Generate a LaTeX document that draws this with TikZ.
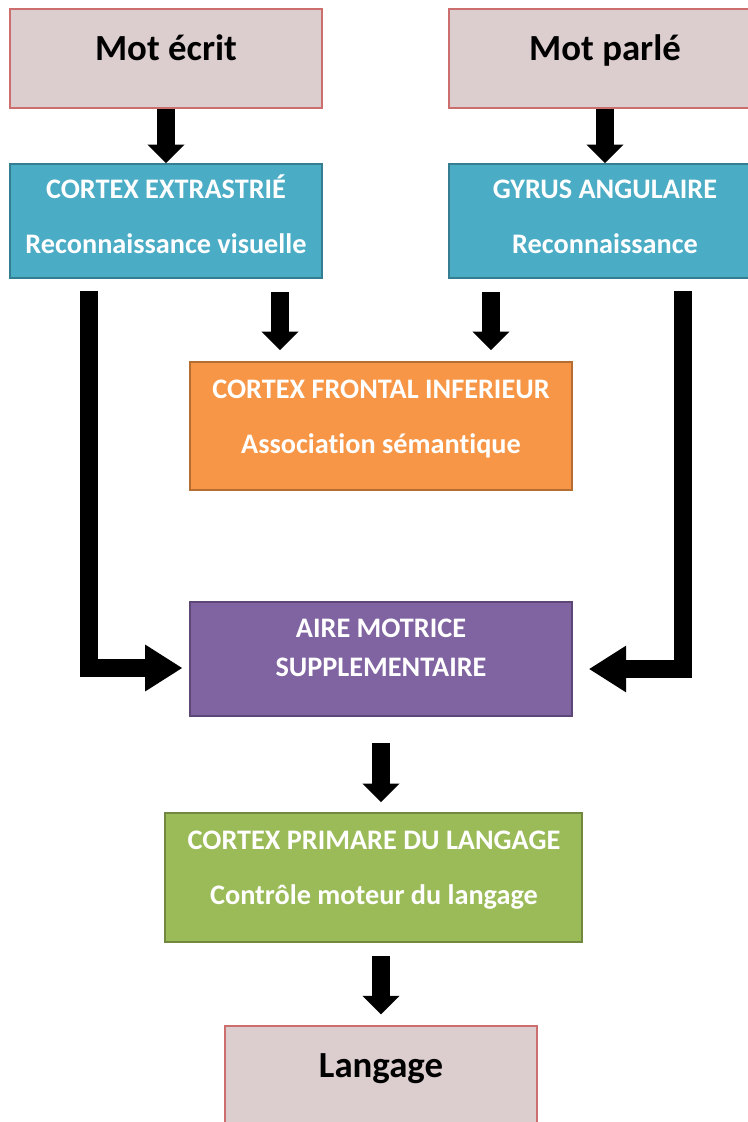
\documentclass[tikz,border=0pt]{standalone}
\usepackage{fontspec}
\setmainfont[Ligatures=NoCommon]{Carlito}
\usetikzlibrary{arrows.meta}
\definecolor{rosefond}{RGB}{220,205,206}
\definecolor{rosetrait}{RGB}{205,110,110}
\definecolor{bleufond}{RGB}{75,172,198}
\definecolor{bleutrait}{RGB}{53,125,145}
\definecolor{orangefond}{RGB}{247,150,70}
\definecolor{orangetrait}{RGB}{182,109,49}
\definecolor{violetfond}{RGB}{128,100,162}
\definecolor{violettrait}{RGB}{92,71,118}
\definecolor{vertfond}{RGB}{155,187,89}
\definecolor{verttrait}{RGB}{113,137,63}
\tikzset{
    boite/.style 2 args={rectangle, fill=#1, draw=#2, line width=1.2pt}
}
\tikzset{
    mot/.style={boite={rosefond}{rosetrait}, line width=0.8pt,
    	minimum width=234pt, minimum height=74.25pt},
    titre/.style={font=\fontsize{27.6}{33}\selectfont\bfseries, anchor=base, inner sep=0pt},
    blanc/.style={text=white, font=\fontsize{21.2}{41.25}\selectfont\bfseries,
    	align=center, anchor=base, inner sep=0pt}
}
\tikzset{
    fleche/.style={line width=13.5pt, -{Triangle[width=27pt,length=14pt]}},
    cote/.style={line width=13.5pt, line join=miter, -{Triangle[width=33pt,length=28pt]}}
}

\begin{document}
\begin{tikzpicture}[x=0.75pt, y=-0.75pt]
  \useasboundingbox (0,0) rectangle (748,1122);
  \clip (0,0) rectangle (748,1122);

  \node (ecrit) [mot] at (166, 58.5) {};
  \node (parle) [mot] at (605, 58.5) {};
  \node (ext) [boite={bleufond}{bleutrait}, minimum width=234pt, minimum height=85.5pt] at (166, 221) {};
  \node (gyrus) [boite={bleufond}{bleutrait}, minimum width=234pt, minimum height=85.5pt] at (605, 221) {};
  \node (cfi) [boite={orangefond}{orangetrait}, minimum width=286.5pt, minimum height=96pt] at (381, 426) {};
  \node (ams) [boite={violetfond}{violettrait}, minimum width=286.5pt, minimum height=85.5pt] at (381, 659) {};
  \node (cpl) [boite={vertfond}{verttrait}, minimum width=312.75pt, minimum height=96.75pt] at (373.5, 877.5) {};
  \node (lang) [mot] at (381, 1075.5) {};

  \node (ecrit-t) [titre] at (166, 60) {Mot écrit};
  \node (parle-t) [titre] at (605, 60) {Mot parlé};
  \node (ext-t) [blanc] at (166, 253) {CORTEX EXTRASTRIÉ\\Reconnaissance visuelle};
  \node (gyrus-t) [blanc] at (605, 253) {GYRUS ANGULAIRE\\Reconnaissance};
  \node (cfi-t) [blanc] at (381, 453) {CORTEX FRONTAL INFERIEUR\\Association sémantique};
  \node (ams-t) [blanc, font=\fontsize{21.2}{29.25}\selectfont\bfseries] at (381, 676) {AIRE MOTRICE\\SUPPLEMENTAIRE};
  \node (cpl-t) [blanc] at (374, 904) {CORTEX PRIMARE DU LANGAGE\\Contrôle moteur du langage};
  \node (lang-t) [titre] at (381, 1077) {Langage};

  \coordinate (gA) at (280, 0);
  \coordinate (gB) at (491, 0);
  \coordinate (gG) at (89, 0);
  \coordinate (gD) at (683, 0);

  \draw[fleche] (ecrit) -- (ext); \draw[fleche] (parle) -- (gyrus);
  \draw[fleche, shorten <=9.75pt, shorten >=8.25pt] (ext.south -| gA) -- (cfi.north -| gA);
  \draw[fleche, shorten <=9.75pt, shorten >=8.25pt] (gyrus.south -| gB) -- (cfi.north -| gB);
  \draw[cote, shorten <=9pt, shorten >=5pt] (ext.south -| gG) |- ([yshift=-6.75pt]ams.west);
  \draw[cote, shorten <=9pt, shorten >=12pt] (gyrus.south -| gD) |- ([yshift=-7.5pt]ams.east);
  \draw[fleche, shorten <=20pt, shorten >=7.5pt] (ams.south) -- (ams.south |- cpl.north);
  \draw[fleche, shorten <=9.75pt, shorten >=8.25pt] (cpl.south -| lang.north) -- (lang.north);
\end{tikzpicture}
\end{document}
